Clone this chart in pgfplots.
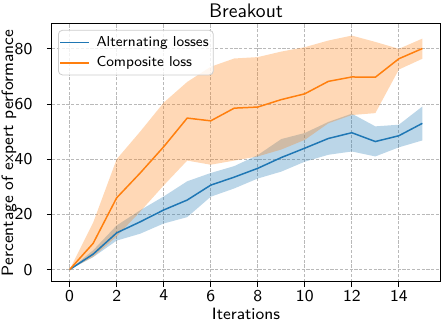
\documentclass[border=0pt]{standalone}
\usepackage{pgfplots}
\pgfplotsset{compat=1.18}
\usepgfplotslibrary{fillbetween}
\renewcommand{\familydefault}{\sfdefault}

\definecolor{c0}{HTML}{1F77B4}
\definecolor{c1}{HTML}{FF7F0E}

% x, mean, lower, upper
\pgfplotstableread{
x m lo hi
0 0 0 0
1 5.6 4.5 7
2 13.3 10.5 16
3 17.3 13 21.5
4 21.6 16.7 26.5
5 25.2 19 32
6 30.6 26.4 35
7 33.5 29.4 37.5
8 36.7 33 41.5
9 40.6 35.5 47.3
10 44.0 39.1 49.5
11 47.5 41.6 53.5
12 49.6 42.8 56.5
13 46.4 41 51.9
14 48.5 44.3 52.5
15 53 46.8 59.1
}\alternating

\pgfplotstableread{
x m lo hi
0 0 0 0
1 9.5 4.6 17
2 26 12 40
3 35 21 50
4 44.5 30.5 60.5
5 54.9 39.5 68
6 53.9 38 73.5
7 58.5 39.5 76.5
8 58.9 41 77
9 61.6 43.5 79
10 63.7 47 80.6
11 68.2 53 83
12 69.8 56 84.8
13 69.7 56.7 82.5
14 76.4 72.5 80
15 80.1 76.4 83.7
}\composite

\begin{document}
\begin{tikzpicture}
\begin{axis}[
  scale only axis,
  width=194pt, height=129pt,
  xmin=-0.75, xmax=15.75,
  ymin=-4.5, ymax=89,
  xtick={0,2,...,14},
  ytick={0,20,...,80},
  tick align=outside,
  xtick pos=bottom, ytick pos=left,
  major tick length=2.5pt,
  tick style={black, line width=0.4pt},
  axis line style={black, line width=0.5pt},
  grid=major,
  major grid style={gray!55, dash pattern=on 1.6pt off 0.8pt, line width=0.4pt},
  every tick label/.append style={font=\fontsize{8.3}{10}\selectfont},
  xticklabel style={yshift=2pt},
  yticklabel style={xshift=-3.8pt},
  /pgf/number format/assume math mode=true,
  xlabel={Iterations},
  ylabel={Percentage of expert performance},
  label style={font=\fontsize{8.2}{10}\selectfont},
  xlabel style={at={(axis description cs:0.5,0)}, anchor=base, yshift=-18.7pt},
  ylabel style={at={(axis description cs:-0.1,0.5)}, anchor=base},
  title={Breakout},
  every axis title shift=0pt,
  title style={font=\fontsize{9.8}{11}\selectfont, at={(axis description cs:0.5,1)}, anchor=base, yshift=3pt},
  legend style={at={(axis description cs:0.0155,0.977)}, anchor=north west,
    font=\fontsize{7.2}{8.5}\selectfont,
    draw=black!20, fill=white, fill opacity=0.8, text opacity=1,
    rounded corners=2pt, inner xsep=0.5pt, inner ysep=0.85pt,
    row sep=0pt,
    nodes={inner sep=1.85pt, text height=5.2pt, text depth=1.4pt},
    /tikz/every odd column/.append style={column sep=1.65pt}},
  legend cell align=left,
  legend image code/.code={\draw[#1] (0pt,0pt) -- (14.3pt,0pt);},
]
\addplot[draw=none, forget plot, name path=aU] table[x=x, y=hi]{\alternating};
\addplot[draw=none, forget plot, name path=aL] table[x=x, y=lo]{\alternating};
\addplot[fill=c0, fill opacity=0.3, draw=none, forget plot] fill between[of=aU and aL];
\addplot[draw=none, forget plot, name path=cU] table[x=x, y=hi]{\composite};
\addplot[draw=none, forget plot, name path=cL] table[x=x, y=lo]{\composite};
\addplot[fill=c1, fill opacity=0.3, draw=none, forget plot] fill between[of=cU and cL];

\addplot[c0, line width=0.75pt, mark=none] table[x=x, y=m]{\alternating};
\addlegendentry{Alternating losses}
\addplot[c1, line width=0.75pt, mark=none] table[x=x, y=m]{\composite};
\addlegendentry{Composite loss}

\coordinate (SW) at (rel axis cs:0,0);
\coordinate (NE) at (rel axis cs:1,1);
\end{axis}
\pgfresetboundingbox
\path[use as bounding box] ([shift={(-26pt,-21.5pt)}]SW) rectangle ([shift={(2.5pt,12pt)}]NE);
\end{tikzpicture}
\end{document}
